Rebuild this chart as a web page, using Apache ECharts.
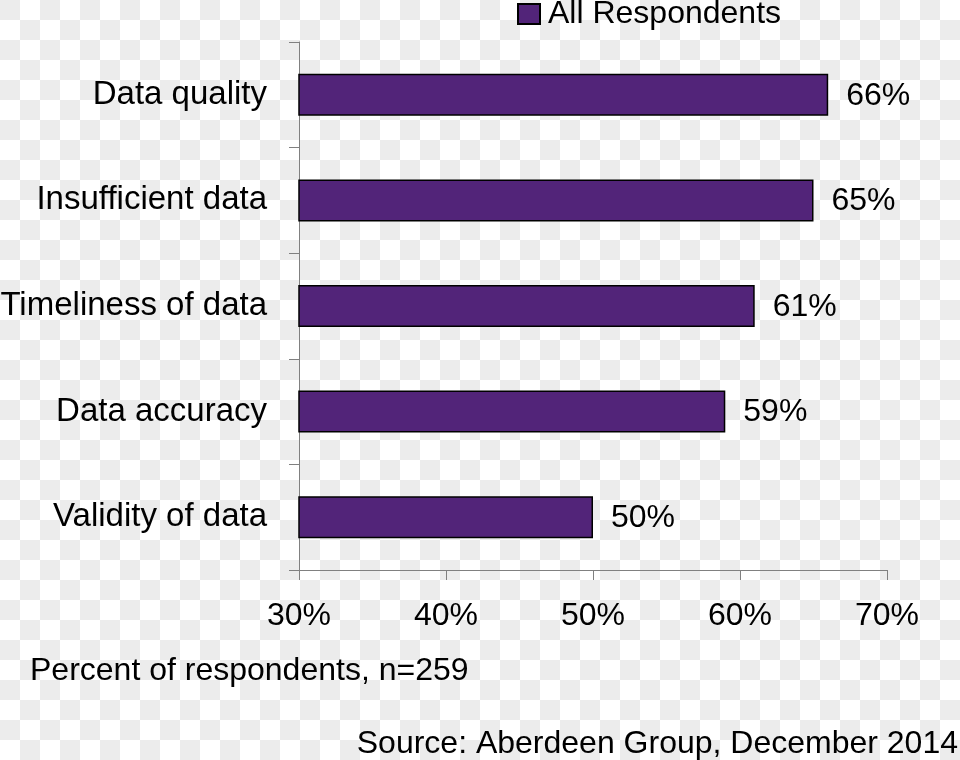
<!DOCTYPE html>
<html><head><meta charset="utf-8">
<script src="https://cdn.jsdelivr.net/npm/echarts@6/dist/echarts.min.js"></script>
<style>
html,body{margin:0;padding:0;}
body{width:960px;height:760px;background-color:#fff;
background-image:linear-gradient(45deg,#ececec 25%,transparent 25%,transparent 75%,#ececec 75%),linear-gradient(45deg,#ececec 25%,transparent 25%,transparent 75%,#ececec 75%);
background-size:40px 40px;background-position:20px 0,0 20px;}
#c{width:960px;height:760px;}
</style></head>
<body><div id="c"></div>
<script>
const categories = ["Data quality","Insufficient data","Timeliness of data","Data accuracy","Validity of data"];
const values = [66,65,61,59,50];
const seriesName = "All Respondents";
const xTicks = [30,40,50,60,70];
const axisTitle = "Percent of respondents, n=259";
const sourceText = "Source: Aberdeen Group, December 2014";

const font = "'Liberation Sans', Arial, sans-serif";
const fs = 32;
const chart = echarts.init(document.getElementById('c'));
chart.setOption({
  backgroundColor: 'transparent',
  animation: false,
  textStyle: {fontFamily: font},
  legend: {
    data: [seriesName], top: -2, left: 517, padding: 0,
    itemWidth: 22, itemHeight: 20, itemGap: 8,
    textStyle: {fontSize: fs, color: '#000', fontFamily: font, padding: [0,0,0,3]},
    icon: 'rect'
  },
  grid: {left: 299, right: 73, top: 42, bottom: 190, containLabel: false, outerBoundsMode: 'none'},
  xAxis: {
    type: 'value', min: xTicks[0], max: xTicks[xTicks.length-1], interval: 10,
    axisLine: {show: true, lineStyle: {color: '#808080', width: 1}},
    axisTick: {show: true, length: 10, lineStyle: {color: '#808080'}},
    splitLine: {show: false},
    axisLabel: {formatter: '{value}%', fontSize: fs, color: '#000', margin: 30, fontFamily: font}
  },
  yAxis: {
    type: 'category', data: categories, inverse: true,
    axisLine: {show: true, lineStyle: {color: '#808080', width: 1}},
    axisTick: {show: true, length: 10, inside: false, lineStyle: {color: '#808080'}},
    axisLabel: {fontSize: 33, color: '#000', margin: 32, fontFamily: font}
  },
  series: [{
    name: seriesName, type: 'bar', data: values, barWidth: 42,
    itemStyle: {color: '#522479', borderColor: '#000', borderWidth: 1.5},
    label: {show: true, position: 'right', distance: 18, formatter: '{c}%', fontSize: fs, color: '#000', fontFamily: font, offset: [0, 1]}
  }],
  graphic: [
    {type: 'text', left: 30, top: 655, style: {text: axisTitle, fontSize: fs, fill: '#000', fontFamily: font}},
    {type: 'text', right: 2, top: 728, style: {text: sourceText, fontSize: fs, fill: '#000', fontFamily: font}}
  ]
});
</script></body></html>
